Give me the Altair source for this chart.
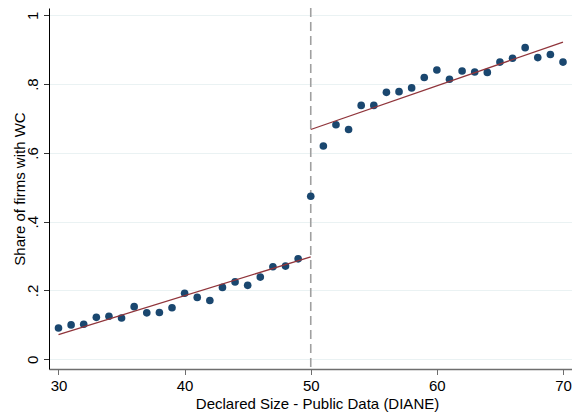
import pandas as pd
import altair as alt

# Declared size bins and share of firms with WC
sizes = list(range(30, 71))
share = [
    0.091, 0.100, 0.102, 0.122, 0.125, 0.120, 0.153, 0.135, 0.136, 0.150,
    0.192, 0.180, 0.171, 0.209, 0.225, 0.215, 0.239, 0.269, 0.271, 0.292,
    0.474,
    0.620, 0.682, 0.668, 0.738, 0.738, 0.776, 0.778, 0.789, 0.819, 0.841,
    0.814, 0.838, 0.835, 0.834, 0.864, 0.875, 0.906, 0.877, 0.886, 0.864,
]

# Linear fits on each side of the threshold (end points)
fit_side = ["below", "below", "above", "above"]
fit_x = [30, 50, 50, 70]
fit_y = [0.072, 0.298, 0.668, 0.922]

threshold = [50]

x_ticks = [30, 40, 50, 60, 70]
y_ticks = [0, 0.2, 0.4, 0.6, 0.8, 1]
y_tick_labels = ["0", ".2", ".4", ".6", ".8", "1"]

FONT = "Liberation Sans"

points_df = pd.DataFrame({"size": sizes, "share": share})
fit_df = pd.DataFrame({"side": fit_side, "size": fit_x, "share": fit_y})
rule_df = pd.DataFrame({"size": threshold})

label_expr = " : ".join(
    f"datum.value == {v} ? '{l}'" for v, l in zip(y_ticks, y_tick_labels)
) + " : ''"

x_scale = alt.Scale(domain=[29.247, 70.714], nice=False, zero=False)
y_scale = alt.Scale(domain=[-0.0282, 1.0212], nice=False, zero=False)

x_axis = alt.Axis(
    values=x_ticks, grid=False, title="Declared Size - Public Data (DIANE)",
    domainColor="#6e6e6e", domainWidth=1.5, tickColor="#6e6e6e", tickSize=5.5,
    labelFont=FONT, labelFontSize=15, labelColor="black", labelFlush=False,
    labelBaseline="alphabetic", labelPadding=16,
    titleFont=FONT, titleFontSize=15, titleFontWeight="normal", titleColor="black",
    titleBaseline="alphabetic", titleX=268, titleY=39,
)
y_axis = alt.Axis(
    values=y_ticks, labelExpr=label_expr, title="Share of firms with WC",
    grid=True, gridColor="#eaf2f3", gridWidth=1,
    domainColor="black", domainWidth=1, tickColor="#333333", tickSize=5.5,
    labelFont=FONT, labelFontSize=15, labelColor="black", labelFlush=False,
    labelAngle=270, labelAlign="center", labelBaseline="alphabetic", labelPadding=6.5,
    titleFont=FONT, titleFontSize=15, titleFontWeight="normal", titleColor="black",
    titleAngle=270, titleBaseline="alphabetic", titleX=-25,
)

rule = alt.Chart(rule_df).mark_rule(
    color="#a0a0a0", strokeWidth=1.6, strokeDash=[9, 5]
).encode(x=alt.X("size:Q", scale=x_scale, axis=x_axis))

points = alt.Chart(points_df).mark_circle(
    size=58, color="#1a476f", opacity=1
).encode(
    x=alt.X("size:Q", scale=x_scale, axis=x_axis),
    y=alt.Y("share:Q", scale=y_scale, axis=y_axis),
)

fits = alt.Chart(fit_df).mark_line(color="#90353b", strokeWidth=1.3).encode(
    x=alt.X("size:Q", scale=x_scale, axis=x_axis),
    y=alt.Y("share:Q", scale=y_scale, axis=y_axis),
    detail="side:N",
)

chart = alt.layer(rule, points, fits).properties(
    width=523,
    height=361,
    autosize=alt.AutoSizeParams(type="none"),
    padding={"left": 41, "top": 0, "right": 0, "bottom": 43},
    background="white",
).configure_view(stroke=None)

chart.save("out.html", embed_options={"renderer": "svg", "actions": False})
